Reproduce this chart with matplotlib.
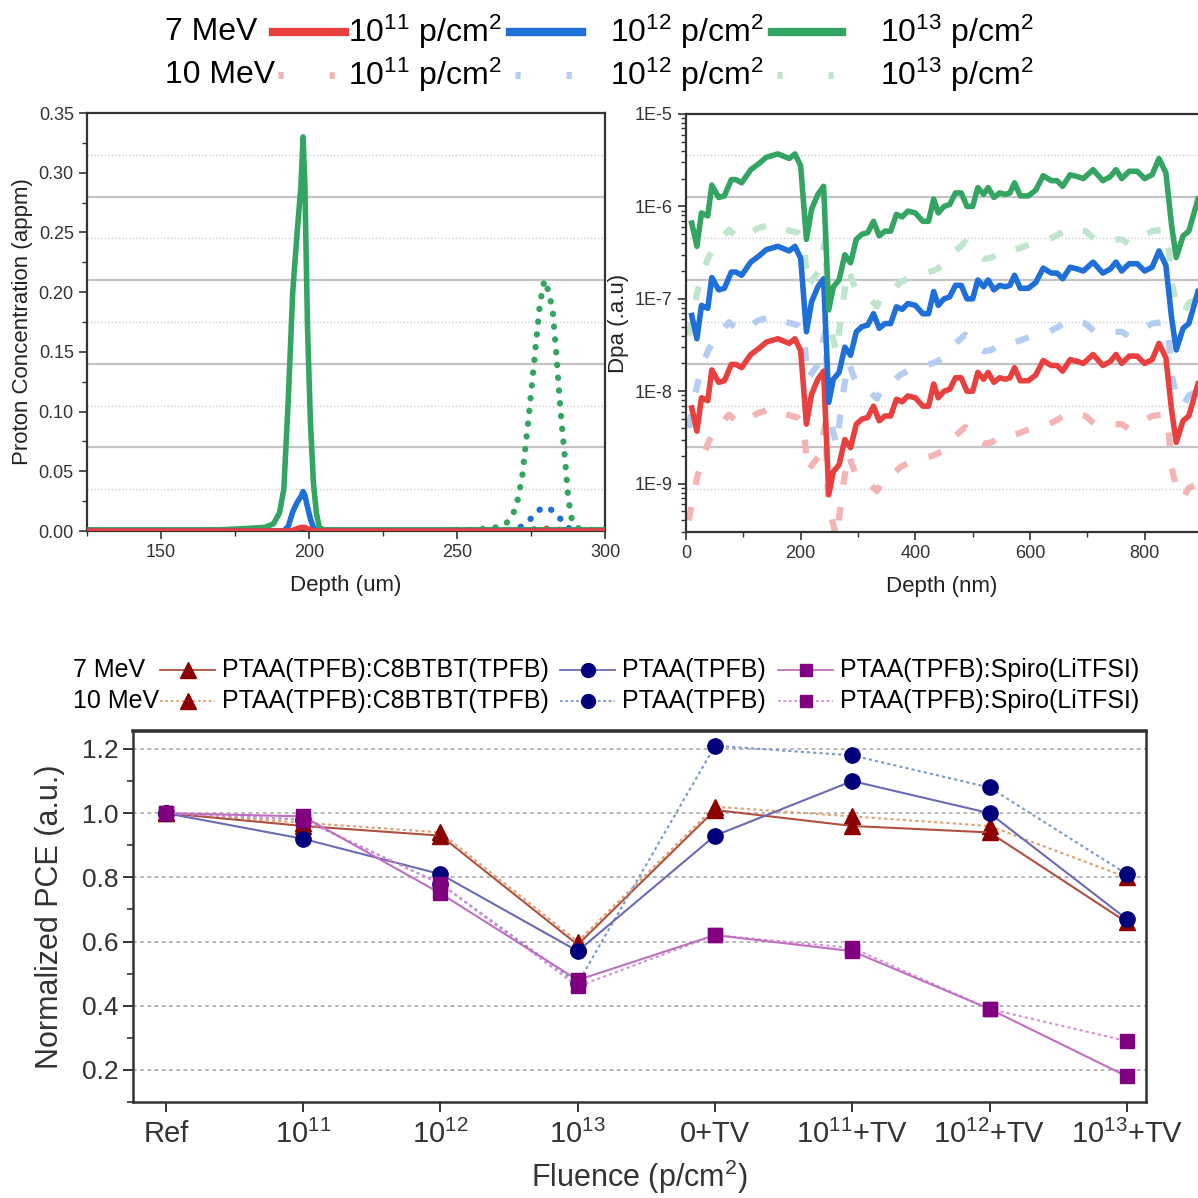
import numpy as np
import matplotlib
matplotlib.use('Agg')
import matplotlib.pyplot as plt
from matplotlib.lines import Line2D
from matplotlib.ticker import MultipleLocator, FixedLocator, FuncFormatter, LogLocator, NullFormatter
import matplotlib.transforms as mtransforms

plt.rcParams['font.family'] = ['Liberation Sans', 'DejaVu Sans']
plt.rcParams['mathtext.fontset'] = 'custom'
plt.rcParams['mathtext.rm'] = 'Liberation Sans'
plt.rcParams['mathtext.it'] = 'Liberation Sans:italic'

# ---------------- data: proton concentration (appm) vs depth (um)
depth7 = [125, 170, 178, 185, 188, 190, 191.5, 193, 194.5, 196, 197.3, 198, 198.6, 199.5, 200.5, 201.5, 202.5, 203.5, 205, 230, 300]
conc7_e11 = [0.0, 0.0, 0.0, 0.0, 0.0, 0.0, 0.0, 0.0, 0.0005, 0.002, 0.003, 0.003, 0.003, 0.002, 0.001, 0.0, 0.0, 0.0, 0.0, 0.0, 0.0]
conc7_e12 = [0.0, 0.0, 0.0, 0.0, 0.0, 0.0, 0.0, 0.004, 0.016, 0.024, 0.029, 0.033, 0.030, 0.020, 0.010, 0.003, 0.0, 0.0, 0.0, 0.0, 0.0]
conc7_e13 = [0.001, 0.001, 0.002, 0.003, 0.006, 0.015, 0.035, 0.11, 0.20, 0.25, 0.29, 0.33, 0.29, 0.17, 0.09, 0.04, 0.015, 0.003, 0.001, 0.001, 0.001]

depth10 = [250, 255, 260, 263, 266, 268, 270, 272, 274, 276, 278, 279.5, 281, 282.3, 283.5, 285, 286.5, 287.5, 288.5, 290, 292, 296, 300]
conc10_e11 = [0.0, 0.0, 0.0, 0.0, 0.0, 0.0, 0.0, 0.0005, 0.001, 0.0015, 0.002, 0.002, 0.002, 0.002, 0.0015, 0.001, 0.0008, 0.0005, 0.0, 0.0, 0.0, 0.0, 0.0]
conc10_e12 = [0.0, 0.0, 0.0, 0.0, 0.0005, 0.001, 0.002, 0.004, 0.008, 0.013, 0.018, 0.020, 0.019, 0.017, 0.014, 0.010, 0.006, 0.003, 0.001, 0.0, 0.0, 0.0, 0.0]
conc10_e13 = [0.001, 0.001, 0.002, 0.003, 0.005, 0.010, 0.020, 0.045, 0.090, 0.140, 0.190, 0.210, 0.200, 0.185, 0.150, 0.100, 0.060, 0.030, 0.012, 0.004, 0.001, 0.001, 0.001]

# ---------------- data: dpa per unit fluence vs depth (nm)
fluences = [1e11, 1e12, 1e13]
dpa_x7 = [10, 19, 27, 32, 38, 45, 57, 67, 79, 87, 97, 113, 127, 140, 160, 180, 190, 200, 210, 219, 230, 240, 249,
          257, 267, 277, 287, 297, 307, 317, 327, 337, 347, 357, 367, 377, 387, 400, 413, 423, 432, 440, 450, 460,
          470, 480, 490, 500, 509, 519, 527, 537, 547, 557, 565, 573, 583, 597, 610, 623, 637, 647, 657, 670, 683,
          693, 710, 727, 740, 750, 760, 773, 787, 800, 813, 825, 837, 847, 855, 867, 877, 893]
dpa_per_fluence7 = [0.66, 0.37, 0.85, 0.82, 0.79, 1.7, 1.25, 1.3, 1.95, 1.95, 1.8, 2.5, 2.9, 3.4, 3.7, 3.3, 3.7, 2.75,
                    0.44, 0.93, 1.35, 1.65, 0.076, 0.135, 0.16, 0.30, 0.245, 0.44, 0.5, 0.52, 0.69, 0.48, 0.54, 0.54,
                    0.82, 0.77, 0.89, 0.85, 0.69, 0.69, 1.2, 0.85, 1.0, 1.05, 1.4, 1.4, 1.0, 1.0, 1.6, 1.35, 1.6, 1.25,
                    1.4, 1.35, 1.4, 1.8, 1.3, 1.3, 1.5, 2.15, 1.9, 1.9, 1.65, 2.2, 2.1, 2.0, 2.5, 1.9, 2.1, 2.5, 2.0,
                    2.4, 2.4, 2.0, 2.2, 3.3, 2.3, 0.62, 0.28, 0.48, 0.54, 1.2]
dpa_x10 = [5, 12, 20, 30, 40, 50, 62, 75, 87, 97, 110, 125, 140, 155, 165, 180, 195, 205, 212, 220, 232, 243, 248,
           255, 263, 272, 283, 295, 307, 320, 333, 343, 358, 373, 390, 413, 430, 450, 470, 487, 505, 520, 533, 553,
           567, 580, 600, 617, 633, 650, 667, 683, 697, 713, 730, 745, 760, 773, 790, 813, 833, 840, 847, 857, 867,
           877, 893]
dpa_per_fluence10 = [0.04, 0.07, 0.12, 0.2, 0.29, 0.35, 0.45, 0.56, 0.48, 0.45, 0.5, 0.58, 0.62, 0.66, 0.59, 0.55,
                     0.52, 0.44, 0.135, 0.16, 0.2, 0.45, 0.065, 0.04, 0.026, 0.08, 0.21, 0.13, 0.115, 0.1, 0.083,
                     0.11, 0.12, 0.15, 0.17, 0.19, 0.2, 0.23, 0.33, 0.41, 0.3, 0.27, 0.28, 0.34, 0.33, 0.35, 0.39,
                     0.4, 0.44, 0.5, 0.59, 0.56, 0.54, 0.44, 0.46, 0.44, 0.44, 0.39, 0.45, 0.54, 0.56, 0.5, 0.15,
                     0.08, 0.07, 0.09, 0.1]
dpa_unit = 1e-19  # values above are dpa / (1e-19 * fluence)

# ---------------- data: normalized PCE
fluence_labels = ['Ref', r'$\mathregular{10^{11}}$', r'$\mathregular{10^{12}}$', r'$\mathregular{10^{13}}$', '0+TV',
                  r'$\mathregular{10^{11}}$+TV', r'$\mathregular{10^{12}}$+TV', r'$\mathregular{10^{13}}$+TV']
c8_7 = [1.0, 0.96, 0.93, 0.59, 1.01, 0.96, 0.94, 0.66]
c8_10 = [1.0, 0.97, 0.94, 0.60, 1.02, 0.99, 0.96, 0.80]
ptaa_7 = [1.0, 0.92, 0.81, 0.57, 0.93, 1.10, 1.00, 0.67]
ptaa_10 = [1.0, 0.98, 0.78, 0.47, 1.21, 1.18, 1.08, 0.81]
spiro_7 = [1.0, 0.99, 0.75, 0.48, 0.62, 0.57, 0.39, 0.18]
spiro_10 = [1.0, 0.98, 0.78, 0.46, 0.62, 0.58, 0.39, 0.29]

fluence_names = [r'$\mathregular{10^{11}}$ p/cm$\mathregular{^2}$',
                 r'$\mathregular{10^{12}}$ p/cm$\mathregular{^2}$',
                 r'$\mathregular{10^{13}}$ p/cm$\mathregular{^2}$']
names = ['PTAA(TPFB):C8BTBT(TPFB)', 'PTAA(TPFB)', 'PTAA(TPFB):Spiro(LiTFSI)']

cols = ['#e8403f', '#1f6fd8', '#34a463']
cols_light = ['#f4b4b4', '#b4cdf0', '#bfe5cd']

W = 1198.0
fig = plt.figure(figsize=(11.98, 11.98), dpi=100)

def fx(px):
    return px / W

def fy(px):
    return 1 - px / W

tick_c = '#333333'

# ================= top-left
ax1 = fig.add_axes([fx(87), fy(531), fx(605 - 87), fx(531 - 113)])
ax1.set_xlim(125, 300)
ax1.set_ylim(0, 0.35)
grid_steps = np.arange(1, 10) * 0.035
blend1 = mtransforms.blended_transform_factory(ax1.transAxes, ax1.transData)
for k, g in enumerate(grid_steps):
    if k % 2 == 1:
        ax1.plot([0, 1], [g, g], transform=blend1, color='#c4c4c4', lw=1.6, zorder=0)
    else:
        ax1.plot([0, 1], [g, g], transform=blend1, color='#cccccc', lw=1.0, ls=(0, (1, 1.5)), zorder=0)
for c, y in zip([cols[2], cols[1], cols[0]], [conc10_e13, conc10_e12, conc10_e11]):
    ax1.plot(depth10, y, color=c, lw=4.5, ls=(0, (0.05, 2.0)), dash_capstyle='round', zorder=2)
for c, y in zip([cols[2], cols[1], cols[0]], [conc7_e13, conc7_e12, conc7_e11]):
    ax1.plot(depth7, y, color=c, lw=4, solid_joinstyle='round', zorder=3)
ax1.xaxis.set_major_locator(MultipleLocator(50))
ax1.xaxis.set_minor_locator(MultipleLocator(25))
ax1.yaxis.set_major_locator(MultipleLocator(0.05))
ax1.yaxis.set_minor_locator(MultipleLocator(0.025))
ax1.yaxis.set_major_formatter(FuncFormatter(lambda v, p: f'{v:.2f}'))
ax1.tick_params(axis='both', which='major', labelsize=13, length=6, width=1.2, colors=tick_c)
ax1.tick_params(axis='both', which='minor', length=3.5, width=1.0, colors=tick_c)
for s in ax1.spines.values():
    s.set_color('#333333')
    s.set_linewidth(1.6)
ax1.set_xlabel('Depth (um)', fontsize=16, color='#222222', labelpad=10)
ax1.set_ylabel('Proton Concentration (appm)', fontsize=16, color='#222222', labelpad=4)

# ================= top-right
ax2 = fig.add_axes([fx(686), fy(532), 1 - fx(686), fx(532 - 114)])
ax2.set_yscale('log')
ax2.set_xlim(0, 893)
ax2.set_ylim(3e-10, 1e-5)
blend2 = mtransforms.blended_transform_factory(ax2.transAxes, ax1.transData)
for k, g in enumerate(grid_steps):
    if k % 2 == 1:
        ax2.plot([0, 1], [g, g], transform=blend2, color='#c4c4c4', lw=1.6, zorder=0)
    else:
        ax2.plot([0, 1], [g, g], transform=blend2, color='#cccccc', lw=1.0, ls=(0, (1, 1.5)), zorder=0)
for c, f in zip(cols_light, fluences):
    ax2.plot(dpa_x10, np.array(dpa_per_fluence10) * dpa_unit * f, color=c, lw=4.5,
             ls=(0, (2.2, 3.6)), zorder=2)
for c, f in zip(cols, fluences):
    ax2.plot(dpa_x7, np.array(dpa_per_fluence7) * dpa_unit * f, color=c, lw=4,
             solid_joinstyle='round', zorder=3)
ax2.xaxis.set_major_locator(MultipleLocator(200))
ax2.xaxis.set_minor_locator(MultipleLocator(100))
ax2.yaxis.set_major_locator(FixedLocator([1e-9, 1e-8, 1e-7, 1e-6, 1e-5]))
ax2.yaxis.set_major_formatter(FuncFormatter(lambda v, p: f'1E{int(round(np.log10(v)))}'))
ax2.yaxis.set_minor_locator(LogLocator(base=10, subs=np.arange(2, 10)))
ax2.yaxis.set_minor_formatter(NullFormatter())
ax2.tick_params(axis='both', which='major', labelsize=13, length=6, width=1.2, colors=tick_c)
ax2.tick_params(axis='both', which='minor', length=3.5, width=1.0, colors=tick_c)
for s in ax2.spines.values():
    s.set_color('#333333')
    s.set_linewidth(1.6)
ax2.spines['right'].set_visible(False)
ax2.set_xlabel('Depth (nm)', fontsize=16, color='#222222', labelpad=10)
ax2.set_ylabel('Dpa (.a.u)', fontsize=16, color='#222222', labelpad=4)

# top legend (manual)
fig.text(fx(165), fy(32), '7 MeV', fontsize=23, va='center', ha='left')
fig.text(fx(165), fy(75), '10 MeV', fontsize=23, va='center', ha='left')
hx = [(273, 345), (510, 582), (772, 842)]
tx = [348, 610, 880]
for i in range(3):
    fig.add_artist(Line2D([fx(hx[i][0]), fx(hx[i][1])], [fy(32), fy(32)], color=cols[i], lw=6,
                          transform=fig.transFigure))
    fig.add_artist(Line2D([fx(hx[i][0] + 5), fx(hx[i][1])], [fy(75), fy(75)], color=cols_light[i], lw=5,
                          ls=(0, (0.75, 6.6)), transform=fig.transFigure))
    for yy in (32, 75):
        fig.text(fx(tx[i]), fy(yy), fluence_names[i], fontsize=23, va='center', ha='left')

# ================= bottom
ax3 = fig.add_axes([fx(133), fy(1102), fx(1146 - 133), fx(1102 - 731)])
xs = np.arange(len(fluence_labels))
ax3.set_xlim(-0.24, 7.14)
ax3.set_ylim(0.1, 1.256)
ax3.yaxis.set_major_locator(MultipleLocator(0.2))
ax3.yaxis.set_minor_locator(MultipleLocator(0.1))
ax3.yaxis.set_major_formatter(FuncFormatter(lambda v, p: f'{v:.1f}'))
for g in np.arange(0.2, 1.21, 0.2):
    ax3.axhline(g, color='#b0b0b0', lw=1.3, ls=(0, (2, 2)), zorder=0)

styles = [
    (c8_7, c8_10, '^', '#8b0000', '#b0503f', '#e0a070', 12),
    (ptaa_7, ptaa_10, 'o', '#00007a', '#6a6ab8', '#7898d0', 11),
    (spiro_7, spiro_10, 's', '#800080', '#c070c0', '#d690d6', 10),
]
for k, (v7, v10, m, mc, lc7, lc10, ms) in enumerate(styles):
    ax3.plot(xs, v10, color=lc10, lw=1.5, ls=(0, (1.5, 1.5)), marker=m, ms=ms, mfc=mc, mec=mc,
             zorder=3 + k)
    ax3.plot(xs, v7, color=lc7, lw=1.5, marker=m, ms=ms, mfc=mc, mec=mc, zorder=3 + k)

ax3.set_xticks(xs)
ax3.set_xticklabels(fluence_labels)
ax3.tick_params(axis='x', which='major', labelsize=21, length=7, width=1.4, colors='#333333', pad=6)
ax3.tick_params(axis='y', which='major', labelsize=19, length=7, width=1.4, colors='#333333')
ax3.tick_params(axis='y', which='minor', length=4, width=1.2, colors='#333333')
for s in ax3.spines.values():
    s.set_color('#333333')
    s.set_linewidth(1.8)
ax3.spines['top'].set_linewidth(2.6)
ax3.set_xlabel(r'Fluence (p/cm$\mathregular{^2}$)', fontsize=22, color='#333333', labelpad=6)
ax3.set_ylabel('Normalized PCE (a.u.)', fontsize=22, color='#333333', labelpad=12)

# bottom legend (manual)
fig.text(fx(73), fy(670), '7 MeV', fontsize=18, va='center', ha='left')
fig.text(fx(73), fy(701), '10 MeV', fontsize=18, va='center', ha='left')
bhx = [(160, 215), (560, 615), (778, 833)]
btx = [222, 622, 840]
for i, (v7, v10, m, mc, lc7, lc10, ms) in enumerate(styles):
    for yy, lc, ls in ((670, lc7, '-'), (701, lc10, (0, (1.5, 1.5)))):
        fig.add_artist(Line2D([fx(bhx[i][0]), fx(bhx[i][1])], [fy(yy), fy(yy)], color=lc, lw=1.3, ls=ls,
                              transform=fig.transFigure))
        fig.add_artist(Line2D([fx((bhx[i][0] + bhx[i][1]) / 2)], [fy(yy)], marker=m, ms=ms - 1, mfc=mc,
                              mec=mc, lw=0, transform=fig.transFigure))
        fig.text(fx(btx[i]), fy(yy), names[i], fontsize=18, va='center', ha='left')

fig.savefig('out.png', dpi=100)
